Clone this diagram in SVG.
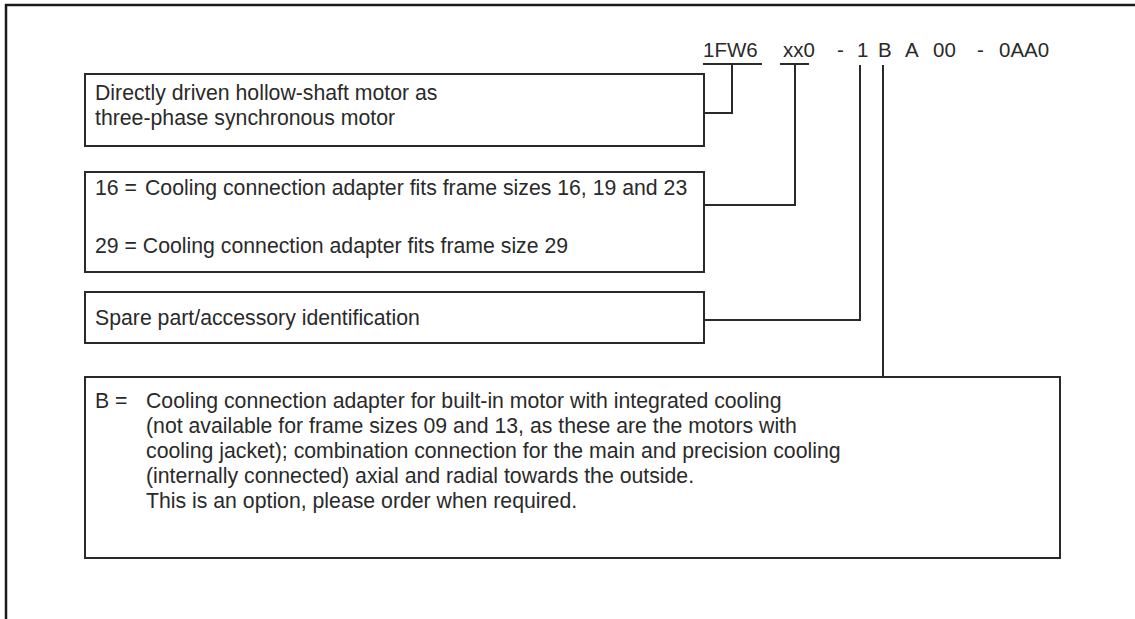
<svg xmlns="http://www.w3.org/2000/svg" width="1135" height="619" viewBox="0 0 1135 619">
<style>
.frame{fill:none;stroke:#1a1a1a;stroke-width:2.5}
.box{fill:#fff;stroke:#2a2a2a;stroke-width:2}
.ln{fill:none;stroke:#2a2a2a;stroke-width:2}
text{font-family:"Liberation Sans",Arial,sans-serif;font-size:21.25px;fill:#2a2a2a}
.code{font-size:20.5px}
</style>
<rect width="1135" height="619" fill="#fff"/>
<path class="frame" d="M6,619 V5 H1135"/>
<g id="code">
<text class="code" x="703" y="57">1FW6</text>
<text class="code" x="783" y="57">xx0</text>
<text class="code" x="837" y="57">-</text>
<text class="code" x="857" y="57">1</text>
<text class="code" x="878" y="57">B</text>
<text class="code" x="905" y="57">A</text>
<text class="code" x="933" y="57">00</text>
<text class="code" x="977" y="57">-</text>
<text class="code" x="999" y="57">0AA0</text>
</g>
<g id="box1">
<rect class="box" x="85" y="74" width="619" height="72"/>
<text x="95" y="100">Directly driven hollow-shaft motor as</text>
<text x="95" y="125">three-phase synchronous motor</text>
</g>
<g id="box2">
<rect class="box" x="85" y="172" width="619" height="100"/>
<text x="95" y="195">16 =<tspan x="145">Cooling connection adapter fits frame sizes 16, 19 and 23</tspan></text>
<text x="95" y="253">29 = Cooling connection adapter fits frame size 29</text>
</g>
<g id="box3">
<rect class="box" x="85" y="292" width="619" height="51"/>
<text x="95" y="325">Spare part/accessory identification</text>
</g>
<g id="box4">
<rect class="box" x="85" y="377" width="975" height="181"/>
<text x="95" y="408">B =</text>
<text x="146" y="408">Cooling connection adapter for built-in motor with integrated cooling</text>
<text x="146" y="433">(not available for frame sizes 09 and 13, as these are the motors with</text>
<text x="146" y="458">cooling jacket); combination connection for the main and precision cooling</text>
<text x="146" y="483">(internally connected) axial and radial towards the outside.</text>
<text x="146" y="508">This is an option, please order when required.</text>
</g>
<g id="connectors">
<path class="ln" d="M703,64 H762 M732,64 V113 H704"/>
<path class="ln" d="M780,64 H809 M795,64 V205 H704"/>
<path class="ln" d="M860,65 V320 H704"/>
<path class="ln" d="M883,65 V377"/>
</g>
</svg>
